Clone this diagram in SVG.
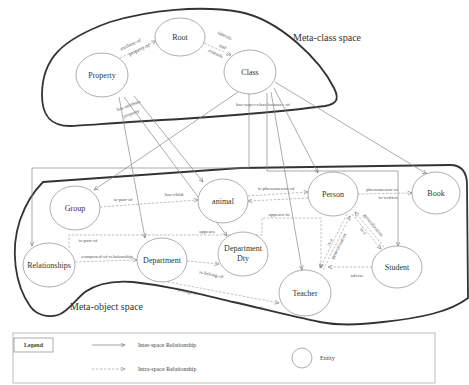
<svg xmlns="http://www.w3.org/2000/svg" width="469" height="385" viewBox="0 0 469 385">
<defs>
<marker id="ah" markerWidth="5" markerHeight="5" refX="4.5" refY="2.5" orient="auto" markerUnits="userSpaceOnUse">
<path d="M0,0.5 L4.5,2.5 L0,4.5" fill="none" stroke="#777" stroke-width="0.6"/>
</marker>
</defs>
<style>
.blob{fill:none;stroke:#333;stroke-width:1.8}
.node ellipse{fill:#fff;stroke:#999;stroke-width:0.8}
.nt{font-family:"Liberation Serif",serif;font-size:8px;fill:#333;text-anchor:middle}
.inter{fill:none;stroke:#888;stroke-width:0.7}
.intra{fill:none;stroke:#999;stroke-width:0.6;stroke-dasharray:2.5,1.5}
.lb{font-family:"Liberation Serif",serif;font-size:5px;fill:#555;text-anchor:middle}
.sp{font-family:"Liberation Serif",serif;font-size:10px;fill:#333}
.lg{font-family:"Liberation Serif",serif;font-size:6px;fill:#444}
</style>
<rect width="469" height="385" fill="#fff"/>

<!-- spaces -->
<path class="blob" d="M70,126 C50,126 42,115 42,95 C42,60 60,40 110,22 C150,10 200,5 240,12 C280,20 320,60 334,88 C340,100 336,104 325,106 C280,112 200,118 130,122 C100,124 80,126 70,126 Z"/>
<text class="sp" x="293" y="41">Meta-class space</text>
<path class="blob" d="M43,182 L240,168 L450,165 C462,165 467,172 467,185 L468,298 C450,312 420,318 383,322 C360,325 340,326 320,322 C290,316 260,308 233,302 C200,294 170,286 133,282 C110,280 95,285 85,292 C75,300 68,312 58,315 C48,318 36,315 30,306 C15,285 10,250 20,220 C27,200 35,190 43,182 Z"/>
<text class="sp" x="70" y="310">Meta-object space</text>

<!-- connectors -->
<g id="connectors">
<!-- meta-class intra -->
<line class="intra" x1="120" y1="58" x2="156" y2="41" marker-end="url(#ah)"/>
<line class="intra" x1="204" y1="43" x2="231" y2="55" marker-end="url(#ah)"/>
<text class="lb" transform="translate(131,46) rotate(-25)">attribute-of</text>
<text class="lb" transform="translate(140,51) rotate(-25)">property-of</text>
<text class="lb" transform="translate(224,37) rotate(25)">inherits</text>
<text class="lb" transform="translate(222,48) rotate(25)">and</text>
<text class="lb" transform="translate(215,55) rotate(25)">extends</text>
<text class="lb" transform="translate(129,107) rotate(-20)">has-attribute</text>
<text class="lb" transform="translate(132,115) rotate(-20)">property</text>
<text class="lb" x="263" y="106">has-super-class/instance-of</text>

<!-- inter-space -->
<line class="inter" x1="119" y1="97" x2="145" y2="238" marker-end="url(#ah)"/>
<line class="inter" x1="124" y1="97" x2="227" y2="236" marker-end="url(#ah)"/>
<line class="inter" x1="134" y1="96" x2="203" y2="182" marker-end="url(#ah)"/>
<line class="inter" x1="238" y1="92" x2="94" y2="190" marker-end="url(#ah)"/>
<polyline class="inter" points="249,94 249,168 32,168 32,246" marker-end="url(#ah)"/>
<polyline class="inter" points="267,93 267,171 398,171 398,246" marker-end="url(#ah)"/>
<line class="inter" x1="271" y1="92" x2="302" y2="270" marker-end="url(#ah)"/>
<line class="inter" x1="274" y1="88" x2="318" y2="173" marker-end="url(#ah)"/>
<line class="inter" x1="275" y1="82" x2="427" y2="174" marker-end="url(#ah)"/>

<!-- meta-object intra -->
<line class="intra" x1="100" y1="207" x2="198" y2="200" marker-end="url(#ah)"/>
<text class="lb" x="123" y="201">is-part-of</text>
<text class="lb" x="174" y="196">has-child</text>
<line class="intra" x1="248" y1="196" x2="308" y2="192" marker-end="url(#ah)"/>
<line class="intra" x1="308" y1="198" x2="248" y2="201" marker-end="url(#ah)"/>
<text class="lb" x="276" y="190">is-phenomenon-of</text>
<line class="intra" x1="358" y1="194" x2="412" y2="193" marker-end="url(#ah)"/>
<text class="lb" x="382" y="191">phenomenon-of</text>
<text class="lb" x="388" y="199">is-written</text>
<line class="intra" x1="75" y1="262" x2="137" y2="260" marker-end="url(#ah)"/>
<text class="lb" x="107" y="258">composed-of-relationship</text>
<polyline class="intra" points="69,248 69,235 262,235 262,218 321,218 321,268" marker-end="url(#ah)"/>
<text class="lb" x="88" y="242">is-part-of</text>
<text class="lb" x="207" y="233">appears</text>
<text class="lb" x="279" y="216">appears-in</text>
<line class="intra" x1="187" y1="261" x2="219" y2="264" marker-end="url(#ah)"/>
<text class="lb" transform="translate(211,276) rotate(12)">is-belong-of</text>
<line class="intra" x1="168" y1="282" x2="279" y2="303" marker-end="url(#ah)"/>
<text class="lb" transform="translate(187,293) rotate(11)">belongs-to</text>
<text class="lb" transform="translate(263,310) rotate(11)">has</text>
<line class="intra" x1="347" y1="214" x2="320" y2="268" marker-end="url(#ah)"/>
<line class="intra" x1="323" y1="270" x2="350" y2="216" marker-end="url(#ah)"/>
<text class="lb" transform="translate(331,243) rotate(-63)">is-a</text>
<text class="lb" transform="translate(340,247) rotate(-63)">generalization</text>
<line class="intra" x1="352" y1="214" x2="381" y2="249" marker-end="url(#ah)"/>
<line class="intra" x1="384" y1="247" x2="355" y2="212" marker-end="url(#ah)"/>
<text class="lb" transform="translate(362,232) rotate(50)">is-a</text>
<text class="lb" transform="translate(372,226) rotate(50)">generalization</text>
<line class="intra" x1="372" y1="267" x2="328" y2="267" marker-end="url(#ah)"/>
<text class="lb" x="357" y="277">advise</text>
</g>

<!-- nodes -->
<g id="root" class="node"><ellipse cx="180" cy="37" rx="25" ry="19"/><text class="nt" x="180" y="40">Root</text></g>
<g id="property" class="node"><ellipse cx="102" cy="75" rx="26" ry="22"/><text class="nt" x="102" y="78">Property</text></g>
<g id="class" class="node"><ellipse cx="250" cy="72" rx="26" ry="22"/><text class="nt" x="250" y="75">Class</text></g>
<g id="group" class="node"><ellipse cx="75" cy="208" rx="25" ry="22"/><text class="nt" x="75" y="211">Group</text></g>
<g id="animal" class="node"><ellipse cx="223" cy="201" rx="25" ry="22"/><text class="nt" x="223" y="204">animal</text></g>
<g id="person" class="node"><ellipse cx="333" cy="194" rx="25" ry="22"/><text class="nt" x="333" y="197">Person</text></g>
<g id="book" class="node"><ellipse cx="436" cy="193" rx="24" ry="21"/><text class="nt" x="436" y="196">Book</text></g>
<g id="relationships" class="node"><ellipse cx="49" cy="265" rx="26" ry="22"/><text class="nt" x="49" y="268">Relationships</text></g>
<g id="department" class="node"><ellipse cx="162" cy="260" rx="25" ry="22"/><text class="nt" x="162" y="263">Department</text></g>
<g id="department-dty" class="node"><ellipse cx="243" cy="254" rx="25" ry="22"/><text class="nt" x="243" y="251">Department</text><text class="nt" x="243" y="261">Dty</text></g>
<g id="teacher" class="node"><ellipse cx="305" cy="293" rx="26" ry="23"/><text class="nt" x="305" y="296">Teacher</text></g>
<g id="student" class="node"><ellipse cx="397" cy="267" rx="25" ry="21"/><text class="nt" x="397" y="270">Student</text></g>

<!-- legend -->
<g id="legend">
<rect x="13" y="333" width="422" height="50" fill="none" stroke="#aaa" stroke-width="0.8"/>
<rect x="14" y="338" width="39" height="14" fill="none" stroke="#888" stroke-width="0.7"/>
<text class="lg" x="33.5" y="347" text-anchor="middle" font-weight="bold">Legend</text>
<line x1="92" y1="345" x2="125" y2="345" stroke="#777" stroke-width="0.7" marker-end="url(#ah)"/>
<text class="lg" x="138" y="347">Inter-space Relationship</text>
<line class="intra" x1="92" y1="369" x2="125" y2="369" marker-end="url(#ah)"/>
<text class="lg" x="138" y="371">Intra-space Relationship</text>
<ellipse cx="302" cy="358" rx="10" ry="10" fill="#fff" stroke="#999" stroke-width="0.8"/>
<text class="lg" x="320" y="360">Entity</text>
</g>
</svg>
